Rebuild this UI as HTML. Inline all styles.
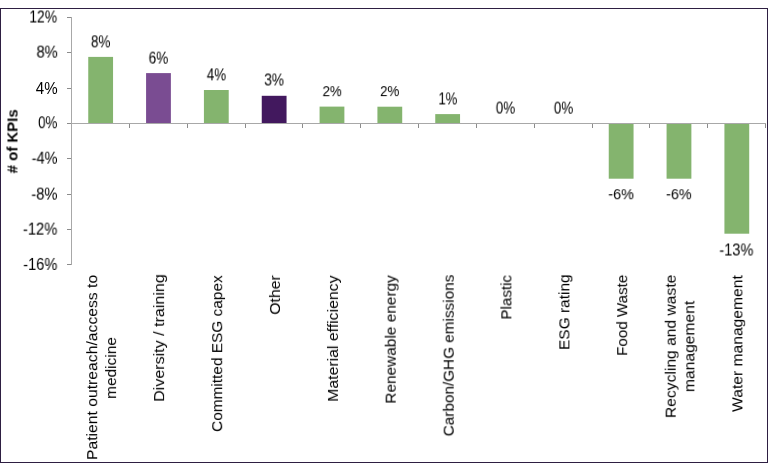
<!DOCTYPE html>
<html><head><meta charset="utf-8"><style>
html,body{margin:0;padding:0;background:#fff;width:768px;height:471px;overflow:hidden}
body{position:relative;font-family:"Liberation Sans",sans-serif;color:#000000}
#frame{position:absolute;left:0;top:8px;width:768px;height:455px;box-sizing:border-box;border:1px solid #2e1f42}
svg{position:absolute;left:0;top:0}
.t{position:absolute;left:0;top:0;white-space:nowrap;transform-origin:0 0;will-change:transform}
.h{font-size:15px;line-height:16px}
.c{font-size:14px;line-height:16px}
.b{font-size:14px;line-height:16px;font-weight:bold}
</style></head><body>
<div id="frame"></div>
<svg width="768" height="471" viewBox="0 0 768 471">
<rect x="88.25" y="56.90" width="24.80" height="66.60" fill="#84b46e"/>
<rect x="146.08" y="73.10" width="24.80" height="50.40" fill="#7a4c92"/>
<rect x="203.92" y="90.00" width="24.80" height="33.50" fill="#84b46e"/>
<rect x="261.75" y="95.80" width="24.80" height="27.70" fill="#42185e"/>
<rect x="319.58" y="106.60" width="24.80" height="16.90" fill="#84b46e"/>
<rect x="377.42" y="106.70" width="24.80" height="16.80" fill="#84b46e"/>
<rect x="435.25" y="114.10" width="24.80" height="9.40" fill="#84b46e"/>
<rect x="608.75" y="123.00" width="24.80" height="55.70" fill="#84b46e"/>
<rect x="666.58" y="123.00" width="24.80" height="55.70" fill="#84b46e"/>
<rect x="724.42" y="123.00" width="24.80" height="110.70" fill="#84b46e"/>
<rect x="71" y="17" width="1" height="248" fill="#a8a8a8"/>
<rect x="67" y="17" width="4" height="1" fill="#8c8c8c"/>
<rect x="67" y="52" width="4" height="1" fill="#8c8c8c"/>
<rect x="67" y="88" width="4" height="1" fill="#8c8c8c"/>
<rect x="67" y="123" width="4" height="1" fill="#8c8c8c"/>
<rect x="67" y="158" width="4" height="1" fill="#8c8c8c"/>
<rect x="67" y="194" width="4" height="1" fill="#8c8c8c"/>
<rect x="67" y="229" width="4" height="1" fill="#8c8c8c"/>
<rect x="67" y="264" width="4" height="1" fill="#8c8c8c"/>
<rect x="72" y="123" width="694" height="1" fill="#a8a8a8"/>
<rect x="129" y="124" width="1" height="4" fill="#8c8c8c"/>
<rect x="187" y="124" width="1" height="4" fill="#8c8c8c"/>
<rect x="245" y="124" width="1" height="4" fill="#8c8c8c"/>
<rect x="302" y="124" width="1" height="4" fill="#8c8c8c"/>
<rect x="360" y="124" width="1" height="4" fill="#8c8c8c"/>
<rect x="418" y="124" width="1" height="4" fill="#8c8c8c"/>
<rect x="476" y="124" width="1" height="4" fill="#8c8c8c"/>
<rect x="534" y="124" width="1" height="4" fill="#8c8c8c"/>
<rect x="592" y="124" width="1" height="4" fill="#8c8c8c"/>
<rect x="649" y="124" width="1" height="4" fill="#8c8c8c"/>
<rect x="707" y="124" width="1" height="4" fill="#8c8c8c"/>
<rect x="765" y="124" width="1" height="4" fill="#8c8c8c"/>
</svg>
<div class="t h" style="transform:translate(29.31px,8.55px) scale(0.9274,1.0571)">12%</div>
<div class="t h" style="transform:translate(36.51px,43.64px) scale(0.9831,1.0571)">8%</div>
<div class="t h" style="transform:translate(35.84px,79.50px) scale(1.0071,1.0829)">4%</div>
<div class="t h" style="transform:translate(38.17px,114.26px) scale(0.8878,1.0667)">0%</div>
<div class="t h" style="transform:translate(31.65px,149.71px) scale(0.9743,1.0537)">-4%</div>
<div class="t h" style="transform:translate(31.32px,185.65px) scale(0.9831,1.0571)">-8%</div>
<div class="t h" style="transform:translate(22.90px,220.64px) scale(0.9831,1.0571)">-12%</div>
<div class="t h" style="transform:translate(23.19px,255.98px) scale(0.9748,1.0952)">-16%</div>
<div class="t h" style="transform:translate(90.90px,33.42px) scale(0.9086,1.0476)">8%</div>
<div class="t h" style="transform:translate(148.64px,49.62px) scale(0.9086,1.0381)">6%</div>
<div class="t h" style="transform:translate(206.81px,66.43px) scale(0.8916,1.0634)">4%</div>
<div class="t h" style="transform:translate(264.25px,71.48px) scale(0.9122,1.0381)">3%</div>
<div class="t h" style="transform:translate(322.53px,83.20px) scale(0.8889,1.0286)">2%</div>
<div class="t h" style="transform:translate(380.06px,83.15px) scale(0.8889,1.0286)">2%</div>
<div class="t h" style="transform:translate(438.46px,90.44px) scale(0.8709,1.0634)">1%</div>
<div class="t h" style="transform:translate(495.80px,99.59px) scale(0.8976,1.0381)">0%</div>
<div class="t h" style="transform:translate(553.83px,99.63px) scale(0.8976,1.0381)">0%</div>
<div class="t h" style="transform:translate(608.22px,186.21px) scale(0.9663,1.0190)">-6%</div>
<div class="t h" style="transform:translate(666.00px,186.22px) scale(0.9663,1.0190)">-6%</div>
<div class="t h" style="transform:translate(719.34px,241.53px) scale(0.9719,1.0476)">-13%</div>
<div class="t c" style="transform:translate(83.18px,460.00px) rotate(-90deg) scale(1.1222,1.04)">Patient outreach/access to</div>
<div class="t c" style="transform:translate(102.08px,398.90px) rotate(-90deg) scale(1.1046,1.04)">medicine</div>
<div class="t c" style="transform:translate(150.08px,401.83px) rotate(-90deg) scale(1.1468,1.04)">Diversity / training</div>
<div class="t c" style="transform:translate(208.18px,431.93px) rotate(-90deg) scale(1.1004,1.04)">Committed ESG capex</div>
<div class="t c" style="transform:translate(265.98px,314.75px) rotate(-90deg) scale(1.1324,1.04)">Other</div>
<div class="t c" style="transform:translate(323.98px,401.81px) rotate(-90deg) scale(1.1312,1.04)">Material efficiency</div>
<div class="t c" style="transform:translate(381.68px,403.68px) rotate(-90deg) scale(1.1011,1.04)">Renewable energy</div>
<div class="t c" style="transform:translate(439.68px,436.32px) rotate(-90deg) scale(1.0928,1.04)">Carbon/GHG emissions</div>
<div class="t c" style="transform:translate(497.38px,319.55px) rotate(-90deg) scale(1.0835,1.04)">Plastic</div>
<div class="t c" style="transform:translate(555.38px,349.98px) rotate(-90deg) scale(1.1049,1.04)">ESG rating</div>
<div class="t c" style="transform:translate(613.18px,355.85px) rotate(-90deg) scale(1.0836,1.04)">Food Waste</div>
<div class="t c" style="transform:translate(661.68px,418.10px) rotate(-90deg) scale(1.1170,1.04)">Recycling and waste</div>
<div class="t c" style="transform:translate(680.38px,392.12px) rotate(-90deg) scale(1.1180,1.04)">management</div>
<div class="t c" style="transform:translate(728.38px,411.98px) rotate(-90deg) scale(1.1172,1.04)">Water management</div>
<div class="t b" style="transform:translate(3.48px,173.37px) rotate(-90deg) scale(1.0695,1.0400)"># of KPIs</div>
</body></html>
